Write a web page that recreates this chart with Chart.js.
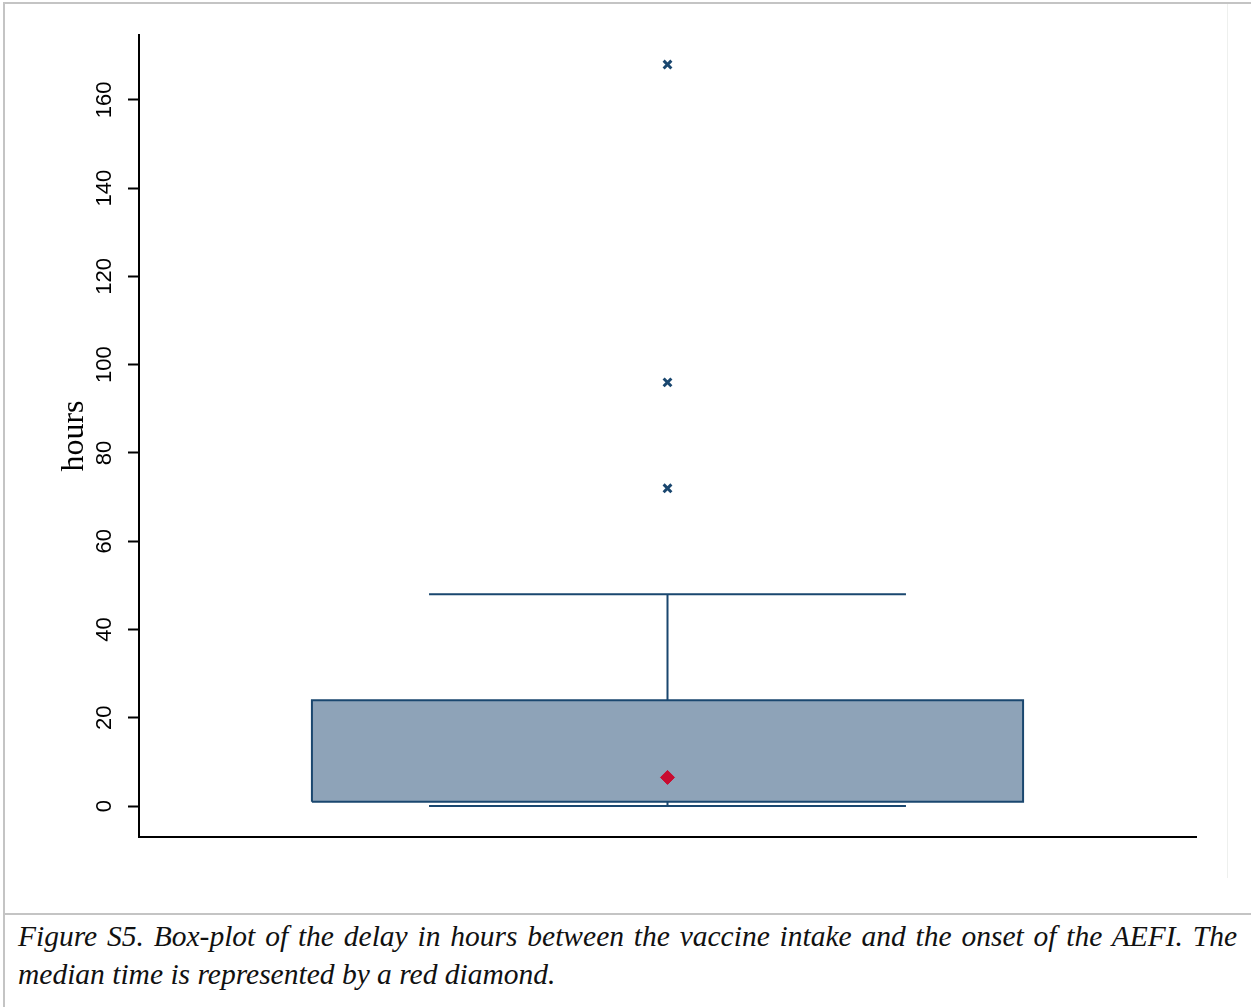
<!DOCTYPE html>
<html>
<head>
<meta charset="utf-8">
<script src="https://cdn.jsdelivr.net/npm/chart.js@4/dist/chart.umd.min.js"></script>
<style>
    body { margin: 0; background: #fff; width: 1251px; height: 1007px; position: relative; overflow: hidden; }
    #chart { position: absolute; left: 0; top: 0; }
    .rule { position: absolute; background: #c4c4c4; }
    #caption {
        position: absolute; left: 18px; top: 917px; width: 1219px;
        font-family: "Liberation Serif", "DejaVu Serif", serif; font-style: italic;
        font-size: 29.5px; line-height: 38px; color: #111;
    }
    #caption .first { text-align: justify; text-align-last: justify; }
</style>
</head>
<body>
<div class="rule" style="left:3px;top:2px;width:1248px;height:2px"></div>
<div class="rule" style="left:3px;top:2px;width:2px;height:1005px"></div>
<div class="rule" style="left:3px;top:913px;width:1248px;height:2px"></div>
<div class="rule" style="left:1227px;top:4px;width:1px;height:874px;background:#eef0ee"></div>
<canvas id="chart" width="1251" height="900"></canvas>
<div id="caption">
    <div class="first">Figure S5. Box-plot of the delay in hours between the vaccine intake and the onset of the AEFI. The</div>
    <div>median time is represented by a red diamond.</div>
</div>
<script>
// Box-plot values (hours)
const whiskerLow = 0;
const quartile1 = 1;
const quartile3 = 24;
const whiskerHigh = 48;
const medianValue = [6.5];
const outliers = [72, 96, 168];
const yTicks = [0, 20, 40, 60, 80, 100, 120, 140, 160];

const navy = 'rgb(26, 71, 111)';
const boxHalf = 0.3364; // half width of the box, in x units
const capHalf = 0.2256; // half width of whisker caps

const boxShape = [
    { x: -boxHalf, y: quartile1 }, { x: boxHalf, y: quartile1 },
    { x: boxHalf, y: quartile3 }, { x: -boxHalf, y: quartile3 },
    { x: -boxHalf, y: quartile1 }
];

const whiskerLine = [
    { x: -capHalf, y: whiskerHigh }, { x: capHalf, y: whiskerHigh }, { x: 0, y: null },
    { x: 0, y: quartile3 }, { x: 0, y: whiskerHigh }, { x: 0, y: null },
    { x: 0, y: whiskerLow }, { x: 0, y: quartile1 }, { x: 0, y: null },
    { x: -capHalf, y: whiskerLow }, { x: capHalf, y: whiskerLow }
];

// rotated tick labels, drawn at the y scale positions
const tickLabels = {
    id: 'tickLabels',
    afterDraw(chart) {
        const ctx = chart.ctx;
        const scale = chart.scales.y;
        ctx.save();
        ctx.font = '22px "Liberation Sans", Arial, sans-serif';
        ctx.fillStyle = '#000';
        ctx.textAlign = 'center';
        ctx.textBaseline = 'middle';
        yTicks.forEach(function(v) {
            ctx.save();
            ctx.translate(105, scale.getPixelForValue(v));
            ctx.rotate(-Math.PI / 2);
            ctx.fillText(String(v), 0, 0);
            ctx.restore();
        });
        ctx.restore();
    }
};

const ctx = document.getElementById('chart').getContext('2d');
new Chart(ctx, {
    type: 'scatter',
    data: {
        datasets: [{
            type: 'line',
            data: boxShape,
            backgroundColor: 'rgb(142, 163, 184)',
            borderColor: navy,
            borderWidth: 2,
            fill: 'shape',
            pointRadius: 0,
            tension: 0,
            order: 3
        }, {
            type: 'line',
            data: whiskerLine,
            borderColor: navy,
            borderWidth: 2,
            pointRadius: 0,
            spanGaps: false,
            fill: false,
            order: 2
        }, {
            data: outliers.map(v => ({ x: 0, y: v })),
            pointStyle: 'crossRot',
            pointRadius: 5.5,
            borderWidth: 3,
            borderColor: navy,
            order: 0
        }, {
            data: medianValue.map(v => ({ x: 0, y: v })),
            pointStyle: 'rectRot',
            pointRadius: 7,
            backgroundColor: 'rgb(200, 12, 48)',
            borderColor: 'rgb(200, 12, 48)',
            borderWidth: 1,
            order: 0
        }]
    },
    options: {
        responsive: false,
        animation: false,
        devicePixelRatio: 1,
        layout: { padding: { left: 0, top: 35, right: 55, bottom: 63 } },
        plugins: { legend: { display: false }, tooltip: { enabled: false } },
        scales: {
            x: {
                type: 'linear',
                min: -0.5,
                max: 0.5,
                offset: false,
                grid: { display: false },
                ticks: { display: false },
                border: { display: true, color: '#000', width: 2 },
                afterFit: s => { s.height = 0; }
            },
            y: {
                min: -7,
                max: 174.7,
                afterBuildTicks: s => { s.ticks = yTicks.map(v => ({ value: v })); },
                afterFit: s => { s.width = 139; },
                ticks: { display: false },
                grid: { drawOnChartArea: false, drawTicks: true, tickLength: 11, tickWidth: 2, tickColor: '#000' },
                border: { color: '#000', width: 2 },
                title: {
                    display: true,
                    text: 'hours',
                    color: '#000',
                    font: { family: '"Liberation Serif", serif', size: 32 },
                    padding: { top: 55, bottom: 0 }
                }
            }
        }
    },
    plugins: [tickLabels]
});
</script>
</body>
</html>
